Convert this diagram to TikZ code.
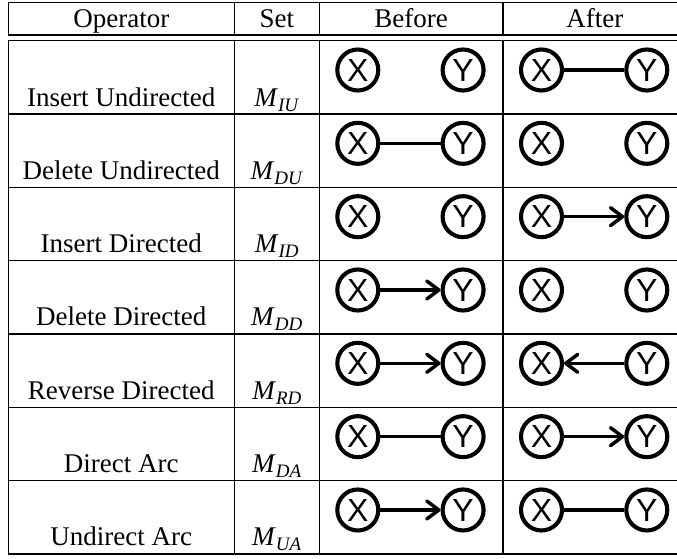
\documentclass[tikz,border=0pt]{standalone}
\usepackage{fontspec}
\setmainfont{Liberation Serif}
\setsansfont{Liberation Sans}
\usetikzlibrary{positioning,arrows.meta}

\newcommand{\opset}[1]{\textit{M}\raisebox{-5pt}{\fontsize{19}{19}\selectfont\textit{#1}}}

\tikzset{
	var/.style={shape=circle, draw, line width=4.1pt, minimum size=41pt, inner sep=0pt, font=\sffamily\fontsize{32}{32}\selectfont},
	undir/.style={line width=3.5pt},
	dir/.style={line width=3.5pt, -{Straight Barb[length=12pt, width=18pt, line cap=round, line join=round]}},
	rule/.style={line width=1.2pt},
	cell/.style={anchor=base, inner sep=0pt, font=\fontsize{27}{27}\selectfont},
}

\begin{document}
\begin{tikzpicture}[x=1pt, y=-1pt]
		\clip (0,0) rectangle (677,558);

		% table rules
		\draw[rule] (8.3,2.7) -- (687,2.7);
		\draw[rule] (8.3,35) -- (687,35);
		\foreach \x in {8.3, 234.3, 319.3, 503, 686.7} {
			\draw[rule] (\x,2.7) -- (\x,35);
			\draw[rule] (\x,40.7) -- (\x,554);
		}
		\foreach \r in {0,...,7}
			\draw[rule] (8.3,40.7+73.33*\r) -- (687,40.7+73.33*\r);

		% header
		\node[cell] (hOp) at (121.3,27) {Operator};
		\node[cell] (hSet) at (276.8,27) {Set};
		\node[cell] (hBefore) at (411.2,27) {Before};
		\node[cell] (hAfter) at (594.9,27) {After};

		% rows
		\foreach \r/\op/\set in {1/Insert Undirected/IU, 2/Delete Undirected/DU, 3/Insert Directed/ID, 4/Delete Directed/DD, 5/Reverse Directed/RD, 6/Direct Arc/DA, 7/Undirect Arc/UA} {
			\pgfmathsetmacro{\yc}{70+73.33*(\r-1)}
			\pgfmathsetmacro{\yb}{106+73.33*(\r-1)}
			\node[cell] (op\r) at (121.3,\yb) {\op};
			\node[cell] (set\r) at (276.8,\yb) {\opset{\set}};
			\node[var] (bX\r) at (357.8,\yc) {X};
			\node[var, right=60.2pt of bX\r] (bY\r) {Y};
			\node[var] (aX\r) at (541.5,\yc) {X};
			\node[var, right=60.2pt of aX\r] (aY\r) {Y};
		}

		% edges
		\draw[undir] (aX1) -- (aY1);
		\draw[undir] (bX2) -- (bY2);
		\draw[dir] (aX3) -- (aY3);
		\draw[dir] (bX4) -- (bY4);
		\draw[dir] (bX5) -- (bY5);
		\draw[dir] (aY5) -- (aX5);
		\draw[undir] (bX6) -- (bY6);
		\draw[dir] (aX6) -- (aY6);
		\draw[dir] (bX7) -- (bY7);
		\draw[undir] (aX7) -- (aY7);
	\end{tikzpicture}
\end{document}
